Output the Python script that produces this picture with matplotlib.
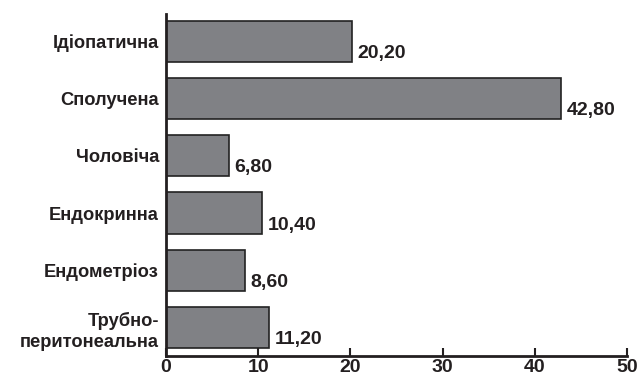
import matplotlib
matplotlib.use("Agg")
import matplotlib.pyplot as plt

categories = ["Ідіопатична", "Сполучена", "Чоловіча", "Ендокринна",
              "Ендометріоз", "Трубно-\nперитонеальна"]
values = [20.20, 42.80, 6.80, 10.40, 8.60, 11.20]
x_ticks = [0, 10, 20, 30, 40, 50]

plt.rcParams['font.family'] = ['Liberation Sans', 'DejaVu Sans']
plt.rcParams['font.weight'] = 'bold'

fig = plt.figure(figsize=(6.38, 3.8), dpi=100)
ax = fig.add_axes([0.260, 0.063, 0.723, 0.900])

pos = list(range(len(categories)))
bars = ax.barh(pos, values, height=0.72, color="#808185",
               edgecolor="#222222", linewidth=1.2)

for b, v in zip(bars, values):
    ax.annotate(f"{v:.2f}".replace(".", ","),
                xy=(b.get_width(), b.get_y() + b.get_height()),
                xytext=(4, 0), textcoords="offset points",
                ha="left", va="bottom", fontsize=14, fontweight="bold",
                color="#231f20")

ax.set_ylim(len(categories) - 0.5, -0.48)
ax.set_xlim(0, 50)
ax.set_yticks(pos)
ax.set_yticklabels(categories, fontsize=13.2, fontweight="bold",
                   color="#231f20", ha="right", multialignment="right",
                   linespacing=1.3)
ax.set_xticks(x_ticks)
ax.set_xticklabels([str(t) for t in x_ticks], fontsize=14,
                   fontweight="bold", color="#231f20")

ax.tick_params(axis="y", length=0, pad=5)
ax.tick_params(axis="x", direction="in", length=6, width=1.5,
               color="#231f20", pad=2)
for side in ["top", "right"]:
    ax.spines[side].set_visible(False)
for side in ["left", "bottom"]:
    ax.spines[side].set_linewidth(2)
    ax.spines[side].set_color("#231f20")

fig.savefig("out.png", dpi=100)
